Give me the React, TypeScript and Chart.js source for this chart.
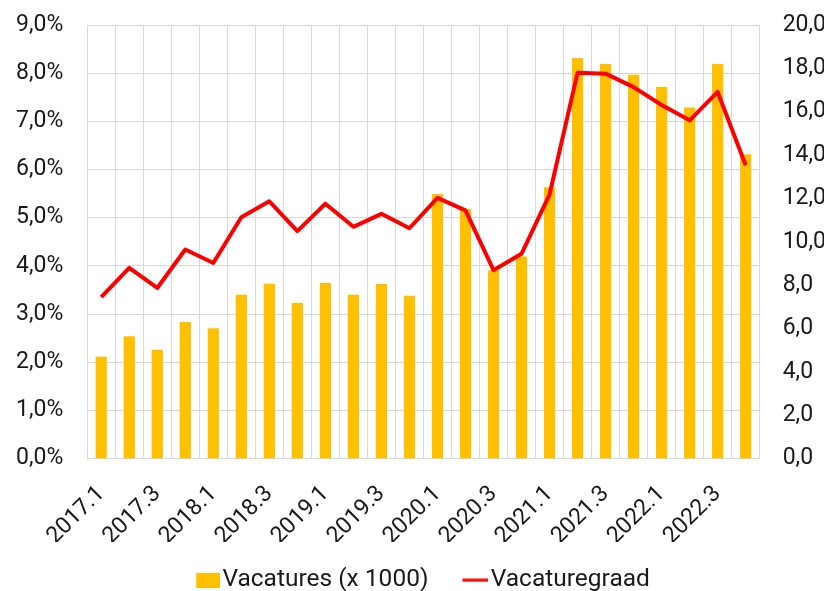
import React, { useEffect, useRef } from 'react';
import { Chart, registerables } from 'chart.js';

Chart.register(...registerables);

const quarters = [
  '2017.1', '2017.2', '2017.3', '2017.4',
  '2018.1', '2018.2', '2018.3', '2018.4',
  '2019.1', '2019.2', '2019.3', '2019.4',
  '2020.1', '2020.2', '2020.3', '2020.4',
  '2021.1', '2021.2', '2021.3', '2021.4',
  '2022.1', '2022.2', '2022.3', '2022.4',
];

// Vacatures (x 1000) — right axis
const vacatures = [
  4.7, 5.64, 5.02, 6.3, 6.01, 7.56, 8.06, 7.17,
  8.1, 7.56, 8.05, 7.51, 12.2, 11.51, 8.68, 9.32,
  12.52, 18.48, 18.2, 17.7, 17.14, 16.19, 18.2, 14.04,
];

// Vacaturegraad (%) — left axis
const vacaturegraad = [
  3.35, 3.96, 3.54, 4.34, 4.06, 5.01, 5.34, 4.72,
  5.29, 4.81, 5.08, 4.78, 5.41, 5.15, 3.91, 4.25,
  5.48, 8.01, 7.99, 7.71, 7.34, 7.02, 7.61, 6.09,
];

const BAR_COLOR = '#FFC000';
const LINE_COLOR = '#FF0000';
const TEXT_COLOR = '#1a1a1a';
const GRID_COLOR = '#D9D9D9';

function makeBoxImage() {
  const c = document.createElement('canvas');
  c.width = 44;
  c.height = 15;
  const ctx = c.getContext('2d')!;
  ctx.fillStyle = BAR_COLOR;
  ctx.fillRect(20, 0, 24, 15);
  return c;
}

function makeLineImage() {
  const c = document.createElement('canvas');
  c.width = 44;
  c.height = 4;
  const ctx = c.getContext('2d')!;
  ctx.fillStyle = LINE_COLOR;
  ctx.fillRect(18, 0.5, 26, 3);
  return c;
}

export default function App() {
  const canvasRef = useRef<HTMLCanvasElement | null>(null);

  useEffect(() => {
    if (!canvasRef.current) return;
    Chart.defaults.font.family = 'Roboto';
    Chart.defaults.color = TEXT_COLOR;
    const boxImg = makeBoxImage();
    const lineImg = makeLineImage();

    const fitY = (trim: number) => (scale: any) => {
      scale.paddingTop = 0;
      scale.paddingBottom = 0;
      scale.width = scale.width - trim;
    };

    const chart = new Chart(canvasRef.current, {
      type: 'bar',
      data: {
        labels: quarters,
        datasets: [
          {
            type: 'bar',
            label: 'Vacatures (x 1000)',
            data: vacatures,
            backgroundColor: BAR_COLOR,
            borderWidth: 0,
            yAxisID: 'y1',
            barPercentage: 0.4,
            categoryPercentage: 1,
            order: 1,
          },
          {
            type: 'line',
            label: 'Vacaturegraad',
            data: vacaturegraad,
            borderColor: LINE_COLOR,
            backgroundColor: LINE_COLOR,
            borderWidth: 4,
            borderJoinStyle: 'round',
            pointRadius: 0,
            tension: 0,
            yAxisID: 'y',
            order: 0,
          } as any,
        ],
      },
      options: {
        responsive: false,
        animation: false,
        devicePixelRatio: 1,
        layout: { padding: { left: 12, right: 8, top: 25, bottom: -11.5 } },
        plugins: {
          tooltip: { enabled: false },
          legend: {
            position: 'bottom',
            labels: {
              usePointStyle: true,
              pointStyleWidth: 24,
              boxHeight: 15,
              padding: 26,
              color: TEXT_COLOR,
              font: { size: 24.5, family: 'Roboto' },
              generateLabels: (ch: any) =>
                ch.data.datasets.map((ds: any, i: number) => ({
                  text: ds.label,
                  pointStyle: i === 0 ? boxImg : lineImg,
                  fillStyle: i === 0 ? BAR_COLOR : LINE_COLOR,
                  strokeStyle: i === 0 ? BAR_COLOR : LINE_COLOR,
                  lineWidth: 0,
                  hidden: false,
                  datasetIndex: i,
                  fontColor: TEXT_COLOR,
                })),
            },
          },
        },
        scales: {
          x: {
            grid: { color: GRID_COLOR, drawTicks: false, offset: true },
            border: { color: GRID_COLOR },
            ticks: {
              autoSkip: false,
              minRotation: 45,
              maxRotation: 45,
              padding: 22,
              color: TEXT_COLOR,
              font: { size: 23, family: 'Roboto' },
              callback: (_v: any, idx: number) => (idx % 2 === 0 ? quarters[idx] : ''),
            },
            afterFit: (scale: any) => {
              scale.paddingLeft = 0;
              scale.paddingRight = 0;
              scale.height = 83.5;
            },
          },
          y: {
            position: 'left',
            min: 0,
            max: 9,
            grid: { color: GRID_COLOR, drawTicks: false },
            border: { display: false },
            ticks: {
              stepSize: 1,
              padding: 24,
              color: TEXT_COLOR,
              font: { size: 23, family: 'Roboto' },
              callback: (v: any) => Number(v).toFixed(1).replace('.', ',') + '%',
            },
            afterFit: fitY(20),
          },
          y1: {
            position: 'right',
            min: 0,
            max: 20,
            grid: { display: false, drawTicks: false },
            border: { display: false },
            ticks: {
              stepSize: 2,
              padding: 23,
              color: TEXT_COLOR,
              font: { size: 23, family: 'Roboto' },
              callback: (v: any) => Number(v).toFixed(1).replace('.', ','),
            },
            afterFit: fitY(25),
          },
        },
      },
    });
    return () => chart.destroy();
  }, []);

  return (
    <div style={{ position: 'absolute', left: 0, top: 0, width: 832, height: 591, background: '#fff' }}>
      <canvas ref={canvasRef} width={832} height={591} style={{ display: 'block' }} />
    </div>
  );
}
